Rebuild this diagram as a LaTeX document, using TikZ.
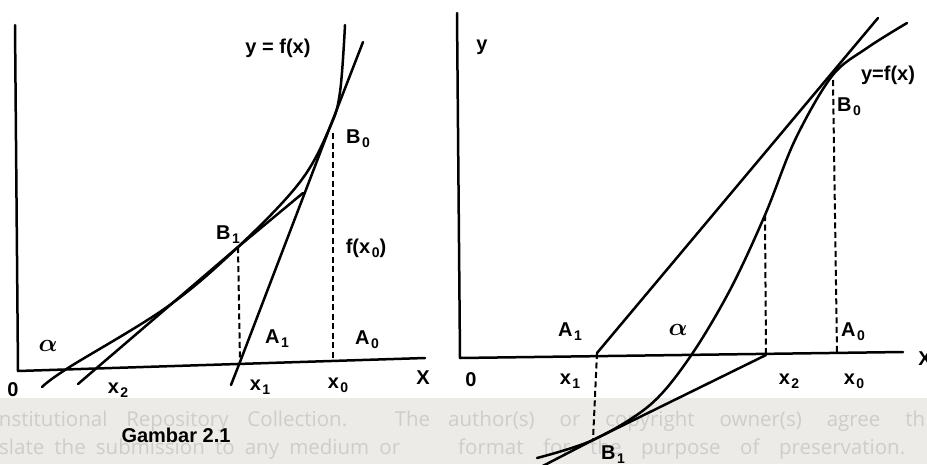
\documentclass[tikz,border=0pt]{standalone}
\usepackage{fontspec}
\setmainfont{Liberation Sans}
\newfontfamily\wmfont{Open Sans}
\definecolor{band}{RGB}{237,235,231}
\definecolor{wmgray}{RGB}{206,205,203}
\newcommand{\lsub}[1]{\kern1.5pt\raisebox{-4pt}{\fontsize{14}{14}\selectfont #1}}
\begin{document}
\begin{tikzpicture}[x=1pt,y=-1pt,
  ln/.style={line width=2.5pt, line cap=round, line join=round},
  dsh/.style={line width=2pt, dash pattern=on 6pt off 3.5pt},
  lbl/.style={inner sep=0pt, font=\fontsize{20}{22}\selectfont\bfseries},
  alp/.style={inner sep=0pt, font=\fontsize{26}{28}\selectfont\boldmath},
  wm/.style={inner sep=0pt, anchor=base west, text=wmgray, font=\wmfont\fontsize{20.5}{22}\selectfont}]
\useasboundingbox (0,0) rectangle (927,464);
\clip (0,0) rectangle (927,464);
\fill[white] (0,0) rectangle (927,398);
\fill[band] (0,398) rectangle (927,464);
\node[wm] (wm1a) at (-7,426) {\makebox[437pt][s]{Institutional Repository Collection. The}};
\node[wm] (wm1b) at (448,426) {\makebox[477pt][s]{author(s) or copyright owner(s) agree th}};
\node[wm] (wm2a) at (-1,454) {\makebox[401pt][s]{slate the submission to any medium or}};
\node[wm] (wm2b) at (458,454) {\makebox[447pt][s]{format for the purpose of preservation.}};

% ---------- left panel ----------
\coordinate (LYtop) at (15,25);
\coordinate (LO) at (18,371);
\coordinate (LXend) at (425,358);
\coordinate (LB1) at (238,247);
\coordinate (LB0) at (330,127);
\coordinate (LA1) at (240,362);
\coordinate (LD0) at (333,133);
\coordinate (LA0) at (333,360);
\coordinate (LT0s) at (231,385);
\coordinate (LT0e) at (363,42);
\coordinate (LT1s) at (78,384);
\coordinate (LT1e) at (303,193);
\draw[ln] (LYtop) -- (LO) -- (LXend);
\draw[ln] plot[smooth, tension=0.6] coordinates {(42,387) (68,368) (167,307) (LB1) (300,182) (LB0) (340,92) (345,25)};
\draw[ln] (LT0s) -- (LA1) -- (LB0) -- (LT0e);
\draw[ln] (LT1s) -- (LB1) -- (LT1e);
\draw[dsh] (LB1) -- (LA1);
\draw[dsh] (LD0) -- (LA0);

\node[lbl] (ly) at (278,48) {y = f(x)};
\node[lbl] (lB0) at (358,139) {B\lsub{0}};
\node[lbl] (lB1) at (228,235) {B\lsub{1}};
\node[lbl] (lfx) at (366,248) {f(x\lsub{0})};
\node[lbl] (lA1) at (277,339) {A\lsub{1}};
\node[lbl] (lA0) at (367,340) {A\lsub{0}};
\node[alp] (lal) at (48,346) {$\alpha$};
\node[lbl] (l0) at (13,390) {0};
\node[lbl] (lx2) at (118,390) {x\lsub{2}};
\node[lbl] (lx1) at (260,387) {x\lsub{1}};
\node[lbl] (lx0) at (338,385) {x\lsub{0}};
\node[lbl] (lX) at (423,378) {X};
\node[lbl] (cap) at (176,435) {Gambar 2.1};

% ---------- right panel ----------
\coordinate (RYtop) at (457,13);
\coordinate (RO) at (460,358);
\coordinate (RXend) at (903,352);
\coordinate (RB1) at (593,440);
\coordinate (RA1) at (597,353);
\coordinate (RC2) at (765,215);
\coordinate (RX2) at (766,355);
\coordinate (RB0) at (832,76);
\coordinate (RD0) at (833,80);
\coordinate (RA0) at (837,352);
\coordinate (RLtop) at (878,18);
\coordinate (RT1s) at (535,470);
\draw[ln] (RYtop) -- (RO) -- (RXend);
\draw[ln] plot[smooth, tension=0.55] coordinates {(537,458) (RB1) (650,405) (690,357) (730,290) (RC2) (795,140) (RB0) (867,48) (907,23)};
\draw[ln] (RA1) -- (RLtop);
\draw[ln] (RT1s) -- (RB1) -- (RX2);
\draw[dsh] (RA1) -- (RB1);
\draw[dsh] (RC2) -- (RX2);
\draw[dsh] (RD0) -- (RA0);

\node[lbl] (ry) at (482,47) {y};
\node[lbl] (ryf) at (888,75) {y=f(x)};
\node[lbl] (rB0) at (849,107) {B\lsub{0}};
\node[lbl] (rA0) at (853,332) {A\lsub{0}};
\node[lbl] (rA1) at (570,332) {A\lsub{1}};
\node[alp] (ral) at (678,330) {$\alpha$};
\node[lbl] (r0) at (471,380) {0};
\node[lbl] (rx1) at (570,381) {x\lsub{1}};
\node[lbl] (rx2) at (789,381) {x\lsub{2}};
\node[lbl] (rx0) at (854,381) {x\lsub{0}};
\node[lbl] (rB1) at (613,455) {B\lsub{1}};
\node[lbl] (rX) at (925,359) {X};
\end{tikzpicture}
\end{document}
